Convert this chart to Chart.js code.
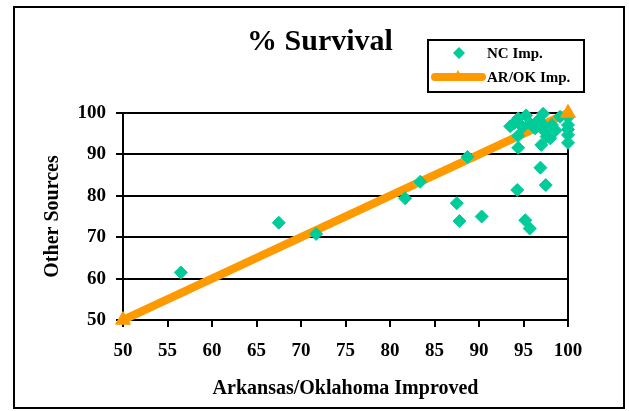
<!DOCTYPE html>
<html>
<head>
<meta charset="utf-8">
<script src="https://cdn.jsdelivr.net/npm/chart.js@4.4.0/dist/chart.umd.min.js"></script>
<style>
  html, body { margin: 0; padding: 0; background: #fff; }
  #wrap { width: 629px; height: 411px; }
</style>
</head>
<body>
<div id="wrap"><canvas id="survivalChart" width="629" height="411"></canvas></div>
<script>
// NC Imp. points (x = Arkansas/Oklahoma Improved, y = Other Sources)
var ncX = [56.5, 67.5, 71.7, 81.7, 83.4, 87.5, 87.8, 88.7, 90.3, 94.3, 95.2, 95.7, 96.9, 97.5,
           94.4, 97.0, 100, 93.5, 94.0, 94.4, 94.4, 94.9, 95.3, 95.7, 96.3, 96.7, 97.2, 97.4,
           97.6, 98.0, 98.2, 98.6, 99.1, 100, 100, 100, 100, 97.3];
var ncY = [61.5, 73.5, 70.8, 79.4, 83.4, 78.2, 73.9, 89.4, 75.0, 81.4, 74.1, 72.1, 86.8, 82.6,
           91.6, 92.3, 92.8, 96.8, 97.6, 98.7, 94.5, 96.6, 99.4, 97.5, 96.3, 98.3, 99.8, 95.5,
           94.3, 93.9, 97.1, 95.8, 99.1, 99.0, 97.1, 94.7, 96.0, 97.0];

// AR/OK Imp. reference line
var arX = [50, 100];
var arY = [50, 100];

var xTickStep = 5;
var yTickStep = 10;

var teal = "#00CC99";
var orange = "#FF9900";
var serif = "'Liberation Serif', 'Times New Roman', serif";

function toPoints(xs, ys) {
  return xs.map(function (x, i) { return { x: x, y: ys[i] }; });
}

// triangle markers of the AR/OK line go on top of everything (as in Excel)
var markerPlugin = {
  id: "lineMarkers",
  afterDatasetsDraw: function (chart) {
    var meta = chart.getDatasetMeta(1);
    var c = chart.ctx;
    c.save();
    c.fillStyle = orange;
    c.strokeStyle = orange;
    c.lineWidth = 1;
    meta.data.forEach(function (pt) {
      Chart.helpers.drawPoint(c, { pointStyle: "triangle", radius: 8.5, borderWidth: 1 }, pt.x, pt.y);
    });
    c.restore();
  },
};

// title, legend box and outer frame
var decorPlugin = {
  id: "decor",
  afterDraw: function (chart) {
    var c = chart.ctx;
    c.save();
    // outer frame
    c.strokeStyle = "#000";
    c.lineWidth = 2;
    c.strokeRect(14, 7, 610, 401);

    // title
    c.fillStyle = "#000";
    c.font = "bold 30px " + serif;
    c.textAlign = "center";
    c.textBaseline = "alphabetic";
    c.fillText("% Survival", 320, 50);

    // legend box
    c.lineWidth = 2;
    c.strokeRect(428, 40, 156, 52);

    // NC Imp. marker
    c.fillStyle = teal;
    c.beginPath();
    c.moveTo(459, 47);
    c.lineTo(465, 53);
    c.lineTo(459, 59);
    c.lineTo(453, 53);
    c.closePath();
    c.fill();

    // AR/OK Imp. line + marker
    c.strokeStyle = orange;
    c.lineWidth = 8;
    c.lineCap = "round";
    c.beginPath();
    c.moveTo(435, 77);
    c.lineTo(482, 77);
    c.stroke();
    c.fillStyle = orange;
    c.beginPath();
    c.moveTo(458, 70);
    c.lineTo(464, 81);
    c.lineTo(452, 81);
    c.closePath();
    c.fill();

    c.fillStyle = "#000";
    c.font = "bold 15px " + serif;
    c.textAlign = "left";
    c.textBaseline = "middle";
    c.fillText("NC Imp.", 487, 54);
    c.fillText("AR/OK Imp.", 487, 78);
    c.restore();
  },
};

var ctx = document.getElementById("survivalChart").getContext("2d");
var survivalChart = new Chart(ctx, {
  type: "scatter",
  data: {
    datasets: [
      {
        label: "NC Imp.",
        data: toPoints(ncX, ncY),
        pointStyle: "rectRot",
        pointRadius: 6.5,
        pointHoverRadius: 6.5,
        backgroundColor: teal,
        borderColor: teal,
        borderWidth: 1,
        clip: false,
      },
      {
        label: "AR/OK Imp.",
        data: toPoints(arX, arY),
        showLine: true,
        borderColor: orange,
        backgroundColor: orange,
        borderWidth: 8,
        pointRadius: 0,
        pointHoverRadius: 0,
        clip: false,
      },
    ],
  },
  options: {
    responsive: false,
    animation: false,
    events: [],
    layout: { padding: { top: 113, right: 61, left: 0, bottom: 0 } },
    plugins: {
      legend: { display: false },
      title: { display: false },
      tooltip: { enabled: false },
    },
    scales: {
      x: {
        type: "linear",
        position: "bottom",
        min: 50,
        max: 100,
        afterFit: function (scale) { scale.height = 91; },
        ticks: {
          stepSize: xTickStep,
          color: "#000",
          padding: 13,
          maxRotation: 0,
          font: { family: serif, size: 19, weight: "bold" },
        },
        grid: {
          color: function (c) { return c.tick && c.tick.value === 100 ? "#000" : "rgba(0,0,0,0)"; },
          tickColor: "#000",
          lineWidth: 2,
          tickWidth: 2,
          tickLength: 7,
        },
        border: { display: true, color: "#000", width: 2 },
        title: {
          display: true,
          text: "Arkansas/Oklahoma Improved",
          color: "#000",
          font: { family: serif, size: 20, weight: "bold" },
          padding: { top: 0, bottom: 10 },
        },
      },
      y: {
        type: "linear",
        position: "left",
        min: 50,
        max: 100,
        afterFit: function (scale) { scale.width = 123; },
        ticks: {
          stepSize: yTickStep,
          color: "#000",
          padding: 10,
          font: { family: serif, size: 19, weight: "bold" },
        },
        grid: {
          color: "#000",
          tickColor: "#000",
          lineWidth: 2,
          tickWidth: 2,
          tickLength: 7,
        },
        border: { display: true, color: "#000", width: 2 },
        title: {
          display: true,
          text: "Other Sources",
          color: "#000",
          font: { family: serif, size: 20, weight: "bold" },
          padding: { top: 41, bottom: 0 },
        },
      },
    },
  },
  plugins: [markerPlugin, decorPlugin],
});
</script>
</body>
</html>
